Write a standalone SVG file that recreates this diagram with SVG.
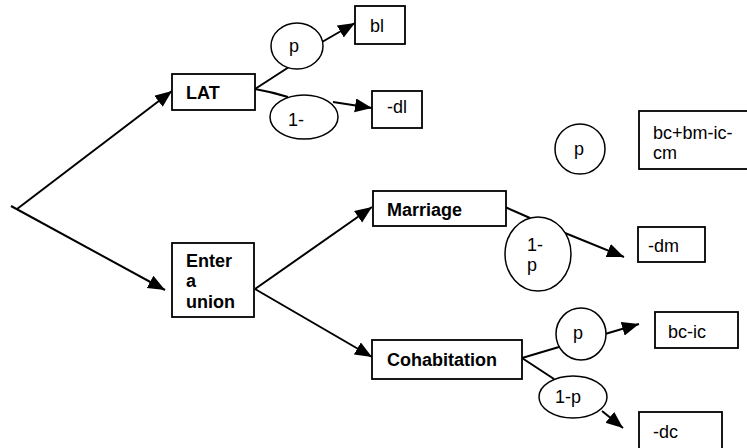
<svg xmlns="http://www.w3.org/2000/svg" width="747" height="448" viewBox="0 0 747 448">
  <style>
    .box { fill: #fff; stroke: #000; stroke-width: 1.8; }
    .oval { fill: #fff; stroke: #000; stroke-width: 1.5; }
    .edge { fill: none; stroke: #000; stroke-width: 2; }
    .arrow { marker-end: url(#head); }
    text { font-family: "Liberation Sans", Arial, sans-serif; font-size: 18px; fill: #000; }
    .b { font-weight: bold; }
  </style>
  <defs>
    <marker id="head" markerUnits="userSpaceOnUse" markerWidth="18" markerHeight="15" refX="17" refY="7" orient="auto">
      <path d="M0,0 L17,7 L0,14 z" fill="#000"/>
    </marker>
  </defs>

  <!-- connectors -->
  <g id="connectors">
    <path class="edge arrow" d="M17,209 L172,91"/>
    <path class="edge arrow" d="M11,206 L165,290"/>
    <path class="edge" d="M255,89 L289,67"/>
    <path class="edge arrow" d="M322,42 L355,23"/>
    <path class="edge" d="M255,89 Q272,92 288,97"/>
    <path class="edge arrow" d="M333,102 L372,108"/>
    <path class="edge arrow" d="M255,289 L372,207"/>
    <path class="edge arrow" d="M255,289 L372,357"/>
    <path class="edge" d="M505,207 L530,218"/>
    <path class="edge arrow" d="M565,233 L624,257"/>
    <path class="edge" d="M522,358 L559,347"/>
    <path class="edge arrow" d="M605,334 L639,324"/>
    <path class="edge" d="M522,358 L554,379"/>
    <path class="edge arrow" d="M602,411 L623,428"/>
  </g>

  <g id="lat">
    <rect class="box" x="172" y="74" width="83" height="36"/>
    <text class="b" x="186" y="99">LAT</text>
  </g>
  <g id="lat-p">
    <ellipse class="oval" cx="297" cy="46" rx="26" ry="23"/>
    <text x="289" y="52">p</text>
  </g>
  <g id="bl">
    <rect class="box" x="355" y="6" width="50" height="38"/>
    <text x="370" y="32">bl</text>
  </g>
  <g id="lat-1p">
    <ellipse class="oval" cx="304" cy="117" rx="34" ry="22"/>
    <text x="288" y="126">1-</text>
  </g>
  <g id="dl">
    <rect class="box" x="372" y="91" width="50" height="37"/>
    <text x="387" y="113">-dl</text>
  </g>

  <g id="free-p">
    <circle class="oval" cx="580" cy="149" r="25"/>
    <text x="574" y="155">p</text>
  </g>
  <g id="bc-bm-ic-cm">
    <rect class="box" x="639" y="111" width="120" height="58"/>
    <text x="653" y="139">bc+bm-ic-</text>
    <text x="653" y="159">cm</text>
  </g>

  <g id="enter-union">
    <rect class="box" x="172" y="243" width="82" height="74"/>
    <text class="b" x="186" y="267">Enter</text>
    <text class="b" x="186" y="287">a</text>
    <text class="b" x="186" y="308">union</text>
  </g>

  <g id="marriage">
    <rect class="box" x="373" y="191" width="133" height="35"/>
    <text class="b" x="387" y="216">Marriage</text>
  </g>
  <g id="marriage-1p">
    <ellipse class="oval" cx="538" cy="254" rx="33" ry="37"/>
    <text x="527" y="251">1-</text>
    <text x="527" y="271">p</text>
  </g>
  <g id="dm">
    <rect class="box" x="638" y="227" width="67" height="35"/>
    <text x="648" y="252">-dm</text>
  </g>

  <g id="cohabitation">
    <rect class="box" x="372" y="340" width="150" height="39"/>
    <text class="b" x="387" y="366">Cohabitation</text>
  </g>
  <g id="cohab-p">
    <ellipse class="oval" cx="581" cy="334" rx="25" ry="26"/>
    <text x="573" y="339">p</text>
  </g>
  <g id="bc-ic">
    <rect class="box" x="655" y="312" width="83" height="36"/>
    <text x="668" y="338">bc-ic</text>
  </g>
  <g id="cohab-1p">
    <ellipse class="oval" cx="573" cy="397" rx="34" ry="21"/>
    <text x="555" y="403">1-p</text>
  </g>
  <g id="dc">
    <rect class="box" x="639" y="412" width="83" height="50"/>
    <text x="653" y="438">-dc</text>
  </g>
</svg>
